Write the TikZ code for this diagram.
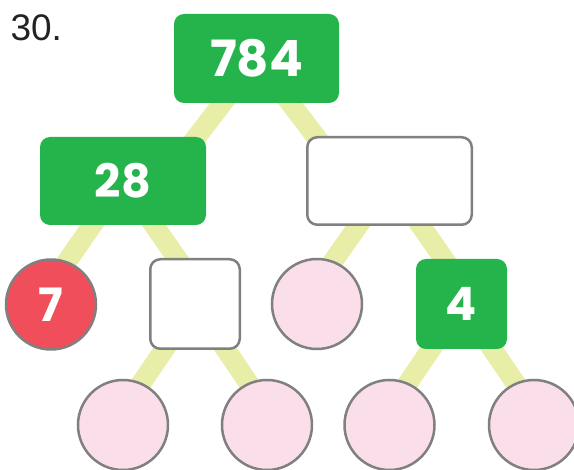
\documentclass[tikz,border=0pt]{standalone}
\usepackage{fontspec}
\setmainfont{Poppins}
\newfontfamily\labelfont{Liberation Sans}
\usetikzlibrary{calc,backgrounds}
\definecolor{boxgreen}{RGB}{37,179,76}
\definecolor{dotred}{RGB}{240,78,90}
\definecolor{dotpink}{RGB}{250,222,233}
\definecolor{edgegray}{RGB}{128,128,128}
\definecolor{stripe}{RGB}{232,237,168}
\definecolor{labelgray}{RGB}{34,34,34}
\begin{document}
\begin{tikzpicture}[x=1pt,y=-1pt,
  branch/.style={line width=20pt, draw=stripe},
  greenbox/.style={rectangle, rounded corners=10pt, fill=boxgreen, text=white,
    font=\fontsize{46}{46}\selectfont\bfseries, inner sep=0pt},
  emptybox/.style={rectangle, rounded corners=10pt, fill=white, draw=edgegray,
    line width=2.5pt, inner sep=0pt},
  pinkdot/.style={circle, fill=dotpink, draw=edgegray, line width=2.5pt,
    minimum size=90pt, inner sep=0pt},
  reddot/.style={circle, fill=dotred, draw=edgegray, line width=2.5pt,
    minimum size=90pt, inner sep=0pt, text=white,
    font=\fontsize{46}{46}\selectfont\bfseries},
  ]
\path[use as bounding box] (0,0) rectangle (574,470);
\clip (0,0) rectangle (574,470);

\node[anchor=base west, font=\labelfont\fontsize{37}{37}\selectfont, text=labelgray] (lbl) at (7,41) {30.};

\node[greenbox, minimum width=165pt, minimum height=89pt,
  font=\fontsize{50}{50}\selectfont\bfseries] (n784) at (256.5,58.5) {784};
\node[greenbox, minimum width=166pt, minimum height=88pt] (n28) at (123,181) {28};
\node[emptybox, minimum width=164.5pt, minimum height=87.5pt] (nbox) at (389.5,181) {};

\node[reddot] (n7) at (51,304.5) {7};
\node[emptybox, minimum width=89.5pt, minimum height=89.5pt] (nsq) at (195,304) {};
\node[pinkdot] (np1) at (317,304) {};
\node[greenbox, minimum width=91pt, minimum height=90pt] (n4) at (461.5,304) {4};

\node[pinkdot] (b1) at (123,425) {};
\node[pinkdot] (b2) at (267,425) {};
\node[pinkdot] (b3) at (389.5,425) {};
\node[pinkdot] (b4) at (534,425) {};

\begin{scope}[on background layer]
\draw[branch] (n784.center) -- ($(n28.center)+(40,0)$);
\draw[branch] (n784.center) -- ($(nbox.center)+(-40,0)$);
\draw[branch] (n28.center) -- ($(n7.center)+(-14,0)$);
\draw[branch] (n28.center) -- ($(nsq.center)+(14,0)$);
\draw[branch] (nbox.center) -- ($(np1.center)+(-14,0)$);
\draw[branch] (nbox.center) -- ($(n4.center)+(14,0)$);
\draw[branch] (nsq.center) -- ($(b1.center)+(-10,0)$);
\draw[branch] (nsq.center) -- ($(b2.center)+(10,0)$);
\draw[branch] (n4.center) -- ($(b3.center)+(-10,0)$);
\draw[branch] (n4.center) -- ($(b4.center)+(10,0)$);
\end{scope}
\end{tikzpicture}
\end{document}
